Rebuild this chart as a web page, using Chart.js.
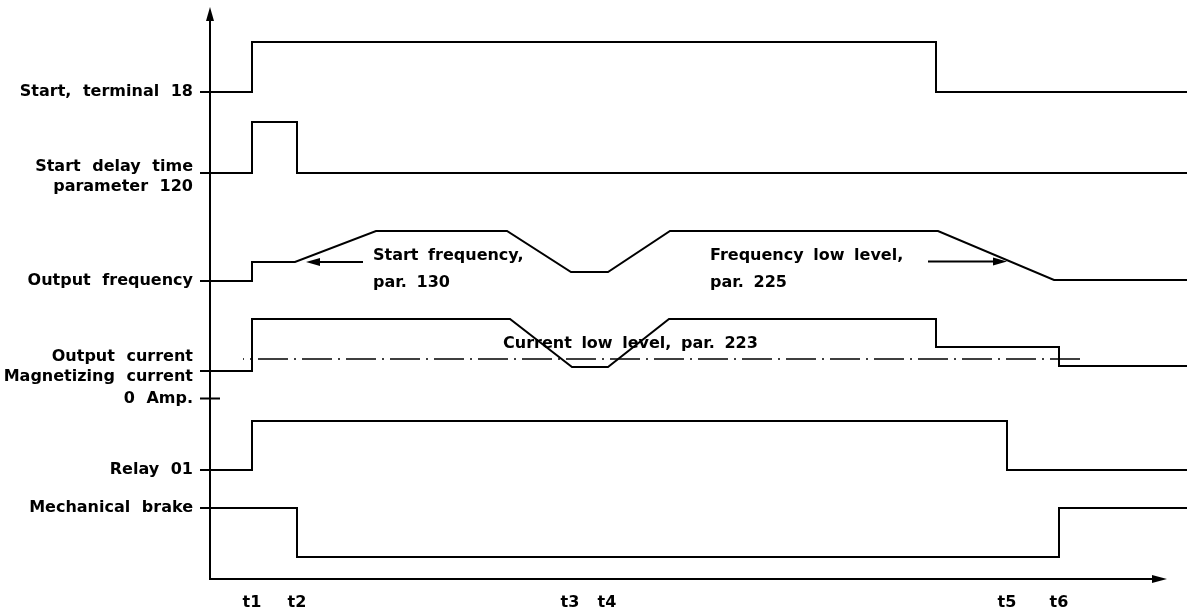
<!DOCTYPE html>
<html><head><meta charset="utf-8">
<script src="https://cdn.jsdelivr.net/npm/chart.js@4/dist/chart.umd.min.js"></script>
<style>html,body{margin:0;padding:0;background:#fff}#wrap{width:1187px;height:614px}</style>
</head><body><div id="wrap"><canvas id="c" width="1187" height="614"></canvas></div>
<script>
// ---- time axis (arbitrary time units) ----
const timeTicks  = [4.2, 8.7, 36.0, 39.7, 79.7, 84.9];
const timeLabels = ['t1', 't2', 't3', 't4', 't5', 't6'];
const timeMin = -1.0, timeMax = 97.7, timeAxisEnd = 95.7;

// ---- signal labels on the vertical axis ----
const signalLabels = [
  'Start, terminal 18',
  ['Start delay time', 'parameter 120'],
  'Output frequency',
  ['Output current', 'Magnetizing current'],
  '0 Amp.',
  'Relay 01',
  'Mechanical brake'
];
const signalLabelLevels = [48.7, 40.2, 29.8, 21.2, 18.05, 10.9, 7.1];
const levelMax = 57.2;

// ---- signals: time points and levels ----
const startT   = [timeMin, 4.2, 4.2, 72.6, 72.6, timeMax];
const startV   = [48.7, 48.7, 53.7, 53.7, 48.7, 48.7];

const delayT   = [timeMin, 4.2, 4.2, 8.7, 8.7, timeMax];
const delayV   = [40.6, 40.6, 45.7, 45.7, 40.6, 40.6];

const freqT    = [timeMin, 4.2, 4.2, 8.5, 16.6, 29.7, 36.1, 39.8, 46.0, 72.8, 84.4, timeMax];
const freqV    = [29.8, 29.8, 31.7, 31.7, 34.8, 34.8, 30.7, 30.7, 34.8, 34.8, 29.9, 29.9];

const currentT = [timeMin, 4.2, 4.2, 30.0, 36.2, 39.8, 45.9, 72.6, 72.6, 84.9, 84.9, timeMax];
const currentV = [20.8, 20.8, 26.0, 26.0, 21.2, 21.2, 26.0, 26.0, 23.2, 23.2, 21.3, 21.3];

const curLowT  = [3.3, 87.4];
const curLowV  = [22.0, 22.0];

const zeroAmpT = [timeMin, 1.0];
const zeroAmpV = [18.05, 18.05];

const relayT   = [timeMin, 4.2, 4.2, 79.7, 79.7, timeMax];
const relayV   = [10.9, 10.9, 15.8, 15.8, 10.9, 10.9];

const brakeT   = [timeMin, 8.7, 8.7, 84.9, 84.9, timeMax];
const brakeV   = [7.1, 7.1, 2.2, 2.2, 7.1, 7.1];

// ---- annotations ----
const annoLines = [['Start frequency,', 'par. 130'], ['Frequency low level,', 'par. 225'], ['Current low level, par. 223']];
const annoT     = [16.3, 50.0, 29.3];
const annoV     = [31.95, 31.95, 23.07];
const annoStep  = 2.75;
const arrowFromT = [15.3, 71.8];
const arrowToT   = [9.6, 79.7];
const arrowV     = [31.7, 31.75];

const pts = (ts, vs) => ts.map((t, i) => ({x: t, y: vs[i]}));
const sig = (label, ts, vs, extra) => Object.assign({
  label, data: pts(ts, vs), borderColor: '#000', backgroundColor: '#000',
  borderWidth: 2, pointRadius: 0, tension: 0, fill: false, clip: false
}, extra || {});

const FONT = 'DejaVu Sans';

function arrow(ctx, x1, y1, x2, y2, len, half) {
  const a = Math.atan2(y2 - y1, x2 - x1);
  const bx = x2 - len * Math.cos(a), by = y2 - len * Math.sin(a);
  ctx.beginPath(); ctx.moveTo(x1, y1); ctx.lineTo(bx, by); ctx.stroke();
  ctx.beginPath();
  ctx.moveTo(x2, y2);
  ctx.lineTo(bx + half * Math.sin(a), by - half * Math.cos(a));
  ctx.lineTo(bx - half * Math.sin(a), by + half * Math.cos(a));
  ctx.closePath(); ctx.fill();
}

const noPad = s => { s.paddingTop = 0; s.paddingBottom = 0; s.paddingLeft = 0; s.paddingRight = 0; };

const diagramPlugin = {
  id: 'diagram',
  beforeDraw(chart) { chart.ctx.wordSpacing = '6px'; },
  afterDraw(chart) {
    const ctx = chart.ctx, x = chart.scales.x, y = chart.scales.y;
    ctx.save();
    ctx.strokeStyle = '#000'; ctx.fillStyle = '#000'; ctx.lineWidth = 2;
    const x0 = x.getPixelForValue(0), y0 = y.getPixelForValue(0);
    // axes with arrow heads
    arrow(ctx, x0, y0 + 1, x0, y.getPixelForValue(levelMax), 14, 4);
    arrow(ctx, x0 - 1, y0, x.getPixelForValue(timeAxisEnd), y0, 15, 4);
    // annotation arrows
    for (let i = 0; i < arrowFromT.length; i++) {
      arrow(ctx, x.getPixelForValue(arrowFromT[i]), y.getPixelForValue(arrowV[i]),
                 x.getPixelForValue(arrowToT[i]), y.getPixelForValue(arrowV[i]), 14, 4);
    }
    // annotation texts
    ctx.font = 'bold 16px "' + FONT + '"';
    ctx.wordSpacing = '4px';
    ctx.textAlign = 'left'; ctx.textBaseline = 'alphabetic';
    annoLines.forEach((lines, i) => {
      lines.forEach((s, j) => {
        ctx.fillText(s, x.getPixelForValue(annoT[i]), y.getPixelForValue(annoV[i] - j * annoStep));
      });
    });
    ctx.restore();
  }
};

new Chart(document.getElementById('c'), {
  type: 'line',
  data: {
    datasets: [
      sig('Start, terminal 18', startT, startV),
      sig('Start delay time', delayT, delayV),
      sig('Output frequency', freqT, freqV),
      sig('Output current', currentT, currentV),
      sig('Current low level', curLowT, curLowV, {borderDash: [30, 6, 2, 6], borderDashOffset: 29, borderWidth: 1.6}),
      sig('0 Amp.', zeroAmpT, zeroAmpV),
      sig('Relay 01', relayT, relayV),
      sig('Mechanical brake', brakeT, brakeV)
    ]
  },
  plugins: [diagramPlugin],
  options: {
    responsive: false,
    devicePixelRatio: 1,
    animation: false,
    layout: {padding: {top: 7, right: 0, bottom: 0, left: 0}},
    plugins: {legend: {display: false}, tooltip: {enabled: false}},
    scales: {
      x: {
        type: 'linear', position: 'bottom', min: 0, max: timeMax,
        grid: {display: false, drawTicks: false, tickLength: 0}, border: {display: false},
        afterBuildTicks: s => { s.ticks = timeTicks.map(v => ({value: v})); },
        afterFit: s => { s.height = 35; noPad(s); },
        ticks: {
          autoSkip: false, maxRotation: 0, minRotation: 0, padding: 14, color: '#000',
          font: {family: FONT, size: 16, weight: 'bold'},
          callback: (v, i) => timeLabels[i]
        }
      },
      y: {
        type: 'linear', position: 'left', min: 0, max: levelMax,
        grid: {display: false, drawTicks: false, tickLength: 0}, border: {display: false},
        afterBuildTicks: s => { s.ticks = signalLabelLevels.map(v => ({value: v})); },
        afterFit: s => { s.width = 210; noPad(s); },
        ticks: {
          autoSkip: false, padding: 17, color: '#000', crossAlign: 'near',
          font: {family: FONT, size: 16, weight: 'bold', lineHeight: 1.25},
          callback: (v, i) => signalLabels[i]
        }
      }
    }
  }
});
</script></body></html>
